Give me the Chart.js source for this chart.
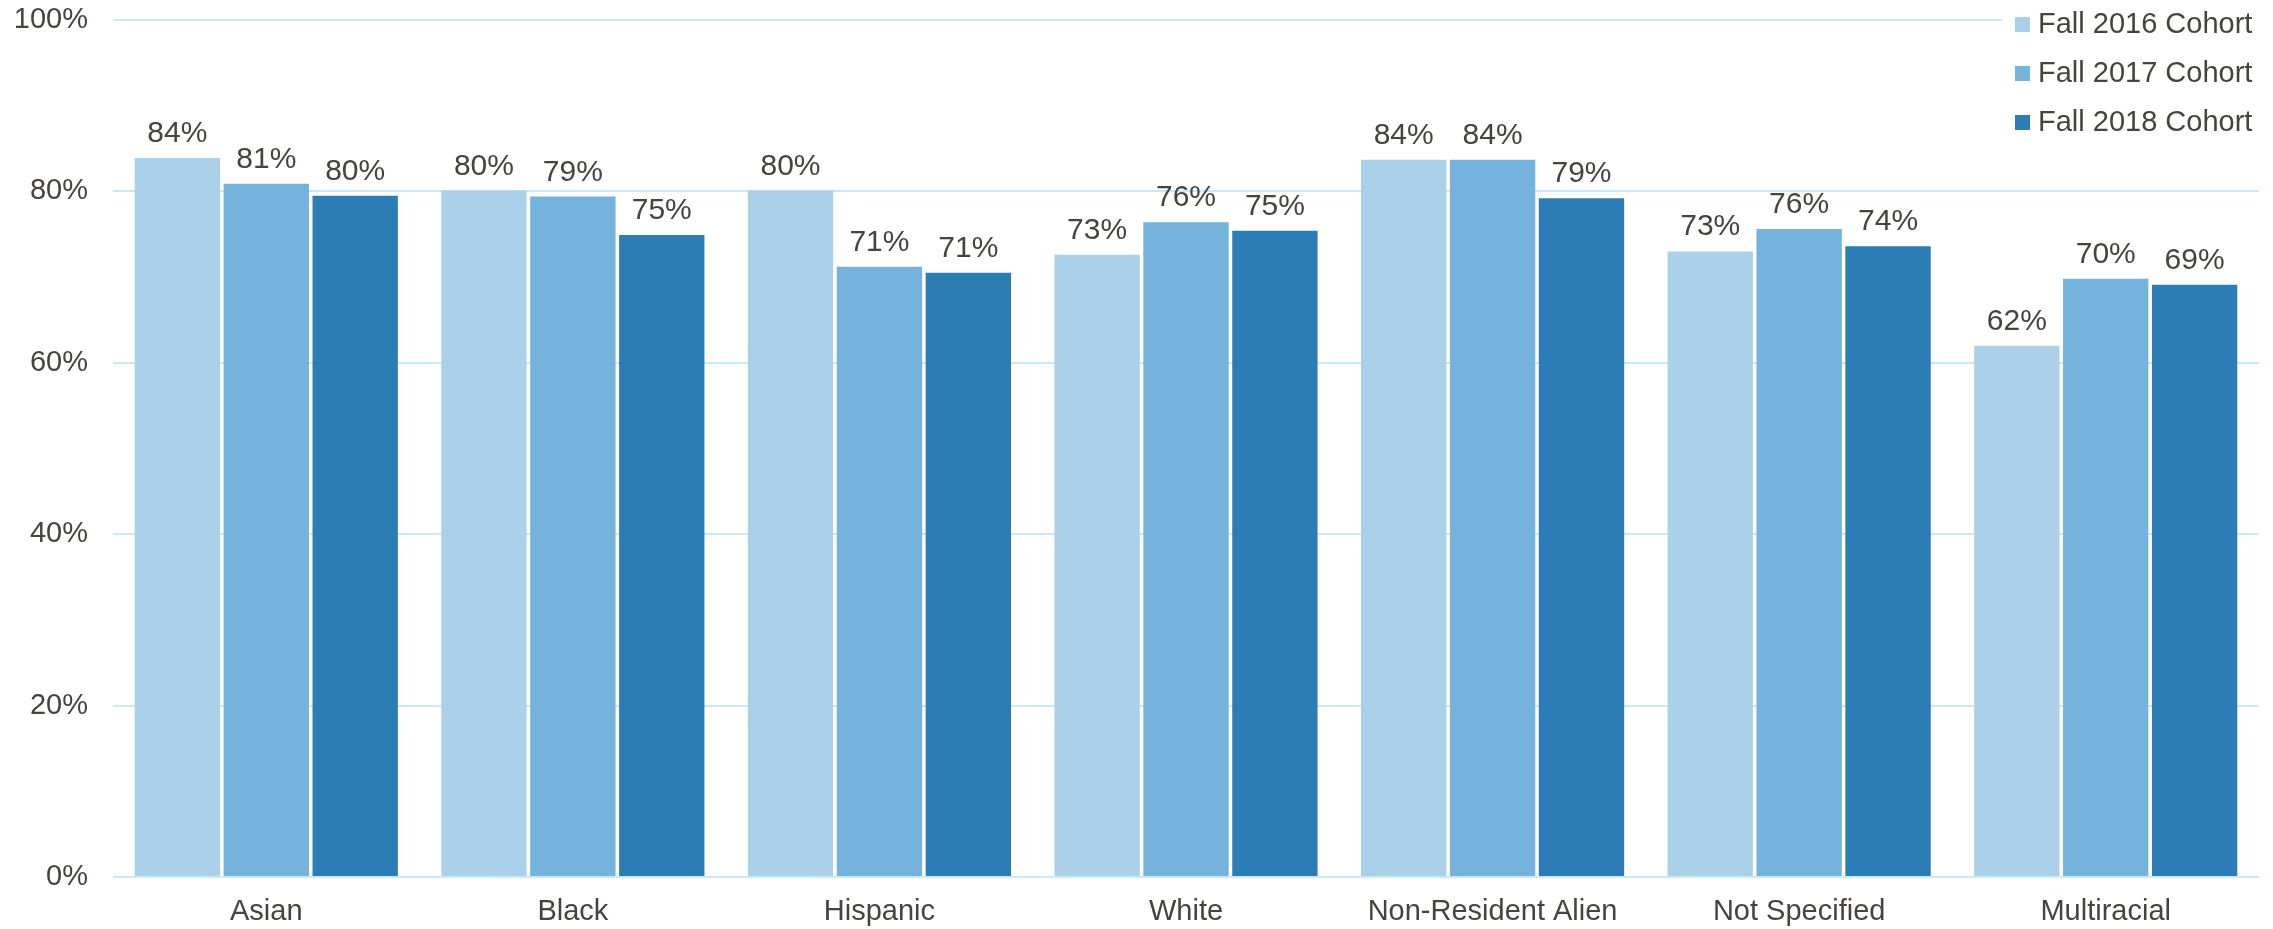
<!doctype html>
<html lang="en">
  <head>
    <meta charset="utf-8">
    <script src="https://cdnjs.cloudflare.com/ajax/libs/Chart.js/4.4.0/chart.umd.min.js"></script>
    <title>Cohort chart</title>
    <style>
      html, body { margin: 0; padding: 0; background: #fff; }
      canvas { display: block; }
    </style>
  </head>
  <body>
    <canvas id="grafica" width="2273" height="929"></canvas>

  <script>

    // datos
    let categorias = ["Asian","Black","Hispanic","White","Non-Resident Alien","Not Specified","Multiracial"];
    let cohorte2016 = [83.9, 80.1, 80.1, 72.6, 83.7, 73.0, 62.0];
    let cohorte2017 = [80.9, 79.4, 71.2, 76.4, 83.7, 75.6, 69.8];
    let cohorte2018 = [79.5, 74.9, 70.5, 75.4, 79.2, 73.6, 69.1];
    let etiquetasSerie = ["Fall 2016 Cohort","Fall 2017 Cohort","Fall 2018 Cohort"];
    let ticksY = [0, 20, 40, 60, 80, 100];

    let colores = ["#abd0ea","#75b2dc","#2c7db5"];
    let textoColor = "#48433e";
    let fuente = "'Liberation Sans', Arial, sans-serif";

    // etiquetas encima de cada barra
    const etiquetasBarras = {
      id: "etiquetasBarras",
      afterDatasetsDraw(chart){
        let ctx = chart.ctx;
        ctx.save();
        ctx.font = "30px " + fuente;
        ctx.fillStyle = textoColor;
        ctx.textAlign = "center";
        ctx.textBaseline = "alphabetic";
        chart.data.datasets.forEach((ds, i) => {
          chart.getDatasetMeta(i).data.forEach((bar, j) => {
            ctx.fillText(Math.round(ds.data[j]) + "%", bar.x, bar.y - 16);
          });
        });
        ctx.restore();
      }
    };

    // leyenda dibujada encima del area del grafico
    const leyenda = {
      id: "leyenda",
      afterDraw(chart){
        let ctx = chart.ctx;
        ctx.save();
        ctx.fillStyle = "#fff";
        ctx.fillRect(2002, 0, 271, 145);
        ctx.font = "29px " + fuente;
        ctx.textBaseline = "middle";
        ctx.textAlign = "left";
        etiquetasSerie.forEach((txt, i) => {
          let y = 24 + i * 49;
          ctx.fillStyle = colores[i];
          ctx.fillRect(2015, y - 7, 15, 15);
          ctx.fillStyle = textoColor;
          ctx.fillText(txt, 2038, y + 1);
        });
        ctx.restore();
      }
    };

    let canvas = document.getElementById("grafica").getContext("2d");

    let series = [cohorte2016, cohorte2017, cohorte2018];

    var chart = new Chart(canvas, {
      type: "bar",
      data: {
        labels: categorias,
        datasets: series.map((d, i) => ({
          label: etiquetasSerie[i],
          data: d,
          backgroundColor: colores[i],
          categoryPercentage: 0.87,
          barPercentage: 0.96
        }))
      },
      options: {
        responsive: false,
        animation: false,
        layout: { padding: { left: 16, right: 14, top: 20, bottom: 2 } },
        plugins: {
          legend: { display: false },
          tooltip: { enabled: false }
        },
        scales: {
          x: {
            grid: { display: false },
            border: { display: false },
            afterFit: axis => { axis.height = 50; axis.paddingLeft = 0; axis.paddingRight = 0; },
            ticks: {
              color: textoColor,
              font: { family: fuente, size: 29 },
              padding: 10,
              maxRotation: 0
            }
          },
          y: {
            min: 0,
            max: 100,
            afterBuildTicks: axis => { axis.ticks = ticksY.map(v => ({ value: v })); },
            afterFit: axis => { axis.width = 97; axis.paddingTop = 0; axis.paddingBottom = 0; },
            grid: { color: "#cbe8f9", lineWidth: 2, drawTicks: false },
            border: { display: false },
            ticks: {
              color: textoColor,
              font: { family: fuente, size: 29 },
              padding: 25,
              callback: v => v + "%"
            }
          }
        }
      },
      plugins: [etiquetasBarras, leyenda]
    });

  </script>
  </body>
</html>
